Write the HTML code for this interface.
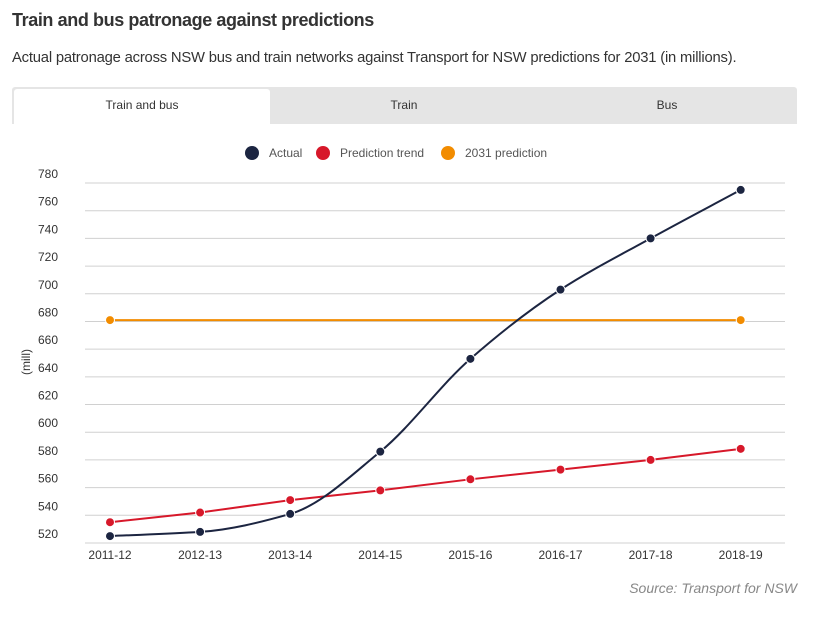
<!DOCTYPE html>
<html><head><meta charset="utf-8"><style>
body{margin:0;width:823px;height:619px;background:#fff;font-family:"Liberation Sans",sans-serif;color:#333;position:relative;overflow:hidden}
.t{position:absolute;left:12px;top:10px;font-size:18px;font-weight:bold;color:#333;letter-spacing:-0.4px}
.s{position:absolute;left:12px;top:50px;font-size:14.8px;color:#333;letter-spacing:-0.2px}
.tabs{position:absolute;left:12px;top:87px;width:785px;height:37px;background:#e5e5e5;border-radius:3px 3px 0 0}
.tab{position:absolute;top:0;height:37px;line-height:37px;text-align:center;font-size:12px;color:#333}
.src{position:absolute;right:26px;top:580px;font-size:14px;font-style:italic;color:#888}
</style></head><body>
<div class="t">Train and bus patronage against predictions</div>
<div class="s">Actual patronage across NSW bus and train networks against Transport for NSW predictions for 2031 (in millions).</div>
<div class="tabs">
<div class="tab" style="left:2px;top:2px;height:35px;line-height:33px;width:256px;background:#fff;border-radius:3px 3px 0 0">Train and bus</div>
<div class="tab" style="left:262px;width:260px">Train</div>
<div class="tab" style="left:525px;width:260px">Bus</div>
</div>
<svg id="c" width="823" height="619" style="position:absolute;left:0;top:0"></svg>
<div class="src">Source: Transport for NSW</div>
<script>
const categories=["2011-12","2012-13","2013-14","2014-15","2015-16","2016-17","2017-18","2018-19"];
const actual=[525,528,541,586,653,703,740,775];
const predictionTrend=[535,542,551,558,566,573,580,588];
const prediction2031=[681,681];
const yTicks=[520,540,560,580,600,620,640,660,680,700,720,740,760,780];
const NS="http://www.w3.org/2000/svg";
const svg=document.getElementById('c');
const x0=110,dx=90.1,yMin=520,yMax=780,yB=543,yT=183;
const X=i=>x0+i*dx;
const Y=v=>yB-(v-yMin)/(yMax-yMin)*(yB-yT);
function mk(t,a){const e=document.createElementNS(NS,t);for(const k in a)e.setAttribute(k,a[k]);svg.appendChild(e);return e;}
yTicks.forEach(v=>{
 const l=mk('line',{x1:85,x2:785,y1:Y(v),y2:Y(v),stroke:'#d0d0d0','stroke-width':1});
 
 
 const t=mk('text',{x:38,y:Y(v)-5,'font-size':12,fill:'#333'});t.textContent=v;
 
 
});
categories.forEach((c,i)=>{
 const t=mk('text',{x:X(i),y:559,'font-size':12,fill:'#333','text-anchor':'middle'});t.textContent=c;
 
 
});
const yt=mk('text',{x:0,y:0,'font-size':12,fill:'#333','text-anchor':'middle',transform:'translate(30,362) rotate(-90)'});yt.textContent='(mill)';


function monotone(pts){
 const n=pts.length,d=[],m=[];
 for(let i=0;i<n-1;i++)d.push((pts[i+1][1]-pts[i][1])/(pts[i+1][0]-pts[i][0]));
 for(let i=0;i<n;i++){
  if(i==0)m.push(d[0]);else if(i==n-1)m.push(d[n-2]);
  else m.push(d[i-1]*d[i]<=0?0:(3*(d[i-1]+d[i]))/( (2*d[i]+d[i-1])/d[i-1]*1 + (d[i]+2*d[i-1])/d[i] ) );
 }
 let p='M'+pts[0][0]+','+pts[0][1];
 for(let i=0;i<n-1;i++){const h=(pts[i+1][0]-pts[i][0])/3;
  p+=' C'+(pts[i][0]+h)+','+(pts[i][1]+m[i]*h)+' '+(pts[i+1][0]-h)+','+(pts[i+1][1]-m[i+1]*h)+' '+pts[i+1][0]+','+pts[i+1][1];}
 return p;
}
function series(vals,xs,color,name,curve){
 const pts=vals.map((v,i)=>[xs(i),Y(v)]);
 const path=mk('path',{d:curve?monotone(pts):'M'+pts.map(p=>p.join(',')).join(' L'),fill:'none',stroke:color,'stroke-width':2});
 
 
 pts.forEach(p=>{const c=mk('circle',{cx:p[0],cy:p[1],r:4.5,fill:color,stroke:'#fff','stroke-width':1});
  
  });
}
series(prediction2031,i=>X(i*(categories.length-1)),'#f28c00','prediction-2031',false);
series(predictionTrend,X,'#d7182a','prediction-trend',false);
series(actual,X,'#1c2541','actual',true);
const leg=[['Actual','#1c2541',252],['Prediction trend','#d7182a',323],['2031 prediction','#f28c00',448]];
leg.forEach(l=>{
 const c=mk('circle',{cx:l[2],cy:153,r:7,fill:l[1]});
 
 
 const t=mk('text',{x:l[2]+17,y:157,'font-size':12,fill:'#555'});t.textContent=l[0];
 
 
});
</script>
</body></html>
